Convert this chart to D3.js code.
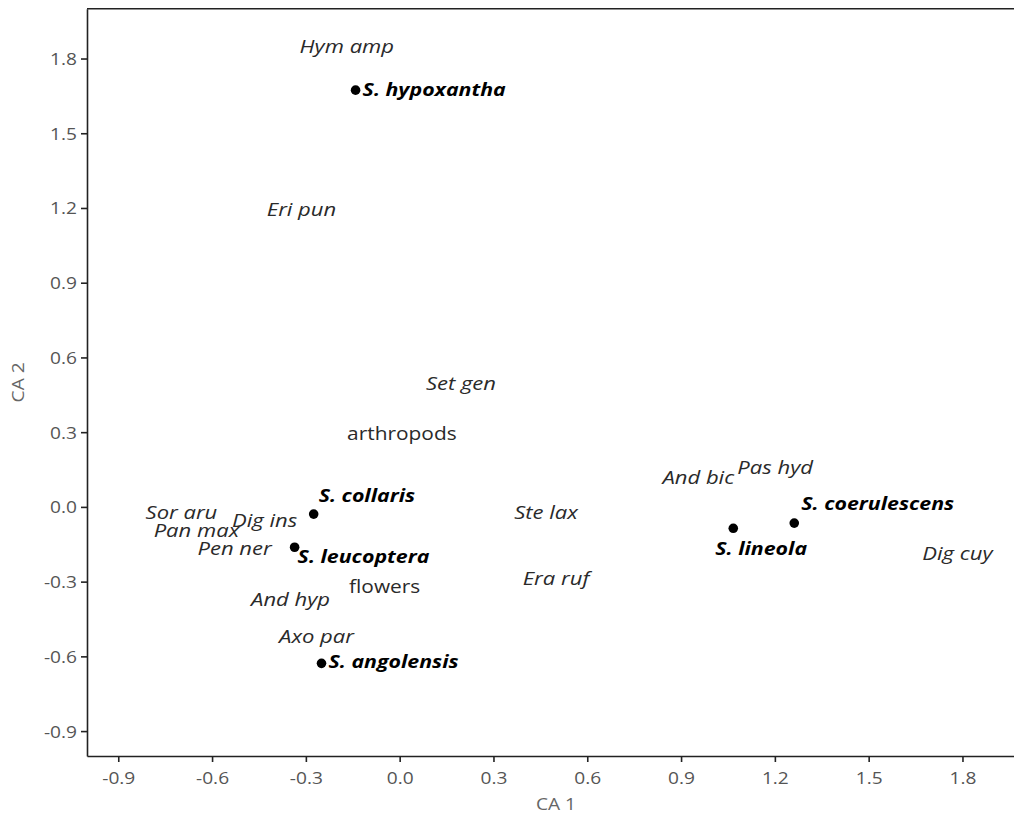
<!DOCTYPE html>
<html>
<head>
<meta charset="utf-8">
<script src="https://cdn.jsdelivr.net/npm/d3@7"></script>
<style>
  html, body { margin: 0; padding: 0; background: #fff; overflow: hidden; }
  svg { display: block; }
</style>
</head>
<body>
<svg id="chart" width="1014" height="816"></svg>
<script>
// Correspondence analysis: bird species (sites) and food items (columns)
const birdNames = ["S. hypoxantha", "S. collaris", "S. leucoptera", "S. angolensis", "S. lineola", "S. coerulescens"];
const birdCA1   = [-0.141, -0.275, -0.336, -0.250, 1.067, 1.262];
const birdCA2   = [1.673, -0.029, -0.162, -0.628, -0.086, -0.065];

const foodNames = ["Hym amp", "Eri pun", "Set gen", "arthropods", "And bic", "Pas hyd", "Ste lax",
                   "Sor aru", "Dig ins", "Pan max", "Pen ner", "Dig cuy", "Era ruf", "flowers", "And hyp", "Axo par"];
const foodCA1   = [-0.169, -0.314, 0.196, 0.007, 0.955, 1.201, 0.468,
                   -0.698, -0.432, -0.650, -0.528, 1.784, 0.500, -0.048, -0.349, -0.266];
const foodCA2   = [1.850, 1.196, 0.497, 0.296, 0.119, 0.159, -0.021,
                   -0.021, -0.053, -0.094, -0.166, -0.186, -0.286, -0.318, -0.371, -0.519];
// Grass taxa are written in italics; the two broad categories are not
const foodItalic = [true, true, true, false, true, true, true,
                    true, true, true, true, true, true, false, true, true];

const xTicks = [-0.9, -0.6, -0.3, 0.0, 0.3, 0.6, 0.9, 1.2, 1.5, 1.8];
const yTicks = [-0.9, -0.6, -0.3, 0.0, 0.3, 0.6, 0.9, 1.2, 1.5, 1.8];

const svg = d3.select("#chart");
const plotLeft = 87, plotRight = 1025, plotTop = 8.7, plotBottom = 756;
const stretch = 1.16; // horizontal text stretch

const x = d3.scaleLinear().domain([-1.0, 2.0]).range([plotLeft, plotRight]);
const y = d3.scaleLinear().domain([-1.0, 2.0]).range([plotBottom, plotTop]);

// plain hyphen for negative tick values
const fmt = v => d3.format(".1f")(v).replace("\u2212", "-");

// Axes
const gx = svg.append("g").attr("transform", `translate(0,${plotBottom})`)
  .call(d3.axisBottom(x).tickValues(xTicks).tickSize(6).tickSizeOuter(0).tickFormat(fmt));
const gy = svg.append("g").attr("transform", `translate(${plotLeft},0)`)
  .call(d3.axisLeft(y).tickValues(yTicks).tickSize(6).tickSizeOuter(0).tickFormat(fmt));

[gx, gy].forEach(g => {
  g.select(".domain").attr("stroke", "#222").attr("stroke-width", 1.6);
  g.selectAll(".tick line").attr("stroke", "#222").attr("stroke-width", 1.6);
  g.selectAll(".tick text")
    .attr("fill", "#555")
    .style("font-family", "'Open Sans', sans-serif")
    .style("font-size", "16.5px");
});
gx.selectAll(".tick text").each(function() {
  d3.select(this).attr("y", null).attr("dy", null)
    .attr("transform", `translate(0,28) scale(${stretch},1)`);
});
gy.selectAll(".tick text").each(function() {
  d3.select(this).attr("x", null).attr("dy", null)
    .attr("transform", `translate(-10,6) scale(${stretch},1)`);
});

// Top frame line
svg.append("line")
  .attr("x1", plotLeft).attr("x2", plotRight)
  .attr("y1", plotTop).attr("y2", plotTop)
  .attr("stroke", "#222").attr("stroke-width", 1.6);

// Axis titles
svg.append("text")
  .attr("transform", `translate(${(plotLeft + plotRight) / 2},${plotBottom + 54}) scale(${stretch},1)`)
  .attr("text-anchor", "middle")
  .attr("fill", "#666")
  .style("font-family", "'Open Sans', sans-serif")
  .style("font-size", "16.5px")
  .text("CA 1");
svg.append("text")
  .attr("transform", `translate(24,${(plotTop + plotBottom) / 2}) rotate(-90) scale(${stretch},1)`)
  .attr("text-anchor", "middle")
  .attr("fill", "#666")
  .style("font-family", "'Open Sans', sans-serif")
  .style("font-size", "16.5px")
  .text("CA 2");

// Food item labels, centred on their scores
foodNames.forEach((name, i) => {
  svg.append("text")
    .attr("transform", `translate(${x(foodCA1[i])},${y(foodCA2[i])}) scale(${stretch},1)`)
    .attr("text-anchor", "middle")
    .attr("dy", "0.36em")
    .attr("fill", "#2a2a2a")
    .style("font-family", "'Open Sans', sans-serif")
    .style("font-size", foodItalic[i] ? "19px" : "18px")
    .style("font-style", foodItalic[i] ? "italic" : "normal")
    .text(name);
});

// Bird species points
const labelNudge = {
  "S. hypoxantha":   [7, 6],
  "S. collaris":     [5, -12],
  "S. leucoptera":   [3, 16],
  "S. angolensis":   [7, 5],
  "S. lineola":      [-18, 27],
  "S. coerulescens": [7, -13]
};
birdNames.forEach((name, i) => {
  const cx = x(birdCA1[i]), cy = y(birdCA2[i]);
  svg.append("circle")
    .attr("cx", cx).attr("cy", cy).attr("r", 4.8)
    .attr("fill", "#000");
  const [dx, dy] = labelNudge[name];
  svg.append("text")
    .attr("transform", `translate(${cx + dx},${cy + dy}) scale(${stretch},1)`)
    .attr("text-anchor", "start")
    .attr("fill", "#000")
    .style("font-family", "'Open Sans', sans-serif")
    .style("font-size", "18.4px")
    .style("font-style", "italic")
    .style("font-weight", "700")
    .text(name);
});
</script>
</body>
</html>
